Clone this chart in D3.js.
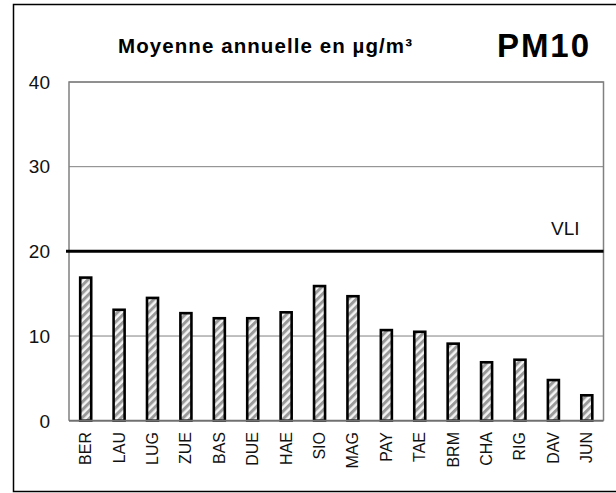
<!DOCTYPE html>
<html>
<head>
<meta charset="utf-8">
<script src="https://cdn.jsdelivr.net/npm/d3@7"></script>
<style>
  html, body { margin: 0; padding: 0; background: #fff; }
  svg { display: block; font-family: "Liberation Sans", Arial, sans-serif; }
</style>
</head>
<body>
<svg id="chart" width="616" height="493"></svg>
<script>
// Annual mean PM10 per NABEL station (µg/m³)
const stations = ["BER","LAU","LUG","ZUE","BAS","DUE","HAE","SIO","MAG","PAY","TAE","BRM","CHA","RIG","DAV","JUN"];
const pm10 = [16.9, 13.1, 14.5, 12.7, 12.1, 12.1, 12.8, 15.9, 14.7, 10.7, 10.5, 9.1, 6.9, 7.2, 4.8, 3.0];
const yTicks = [0, 10, 20, 30, 40];
const limitValue = 20;
const limitLabel = "VLI";
const title = "Moyenne annuelle en µg/m³";
const pollutant = "PM10";

const svg = d3.select("#chart");
const plot = { left: 69, right: 603.5, top: 82, bottom: 420.7 };

const x = d3.scaleBand().domain(stations).range([plot.left, plot.right]).paddingInner(0.67).paddingOuter(0.335);
const y = d3.scaleLinear().domain([0, 40]).range([plot.bottom, plot.top]);

// hatched fill for the bars
const defs = svg.append("defs");
const pat = defs.append("pattern")
  .attr("id", "hatch").attr("patternUnits", "userSpaceOnUse")
  .attr("width", 5.5).attr("height", 5.5)
  .attr("patternTransform", "rotate(45)");
pat.append("rect").attr("width", 5.5).attr("height", 5.5).attr("fill", "#f4f4f4");
pat.append("rect").attr("width", 3).attr("height", 5.5).attr("fill", "#9a9a9a");

// outer frame
svg.append("rect")
  .attr("x", 13.5).attr("y", 4.5).attr("width", 620).attr("height", 487)
  .attr("fill", "none").attr("stroke", "#000").attr("stroke-width", 1.5);

// titles
svg.append("text").attr("x", 118).attr("y", 53)
  .attr("font-size", 20.5).attr("font-weight", "bold")
  .attr("textLength", 294).attr("lengthAdjust", "spacing").text(title);
svg.append("text").attr("x", 497).attr("y", 57)
  .attr("font-size", 33).attr("font-weight", "bold")
  .attr("textLength", 92).attr("lengthAdjust", "spacing").text(pollutant);

// grid lines
svg.append("g").selectAll("line")
  .data(yTicks.filter(t => t !== 0 && t !== limitValue))
  .join("line")
  .attr("x1", plot.left).attr("x2", plot.right)
  .attr("y1", d => y(d)).attr("y2", d => y(d))
  .attr("stroke", "#808080").attr("stroke-width", 1);

// plot border (left, top, right)
svg.append("path")
  .attr("d", `M${plot.left},${plot.bottom}V${plot.top}H${plot.right}V${plot.bottom}`)
  .attr("fill", "none").attr("stroke", "#808080").attr("stroke-width", 1.5);

// y axis labels
svg.append("g").selectAll("text")
  .data(yTicks).join("text")
  .attr("x", 50).attr("y", d => y(d) + 6.8)
  .attr("text-anchor", "end").attr("font-size", 19).attr("fill", "#111")
  .text(d => d);

// bars
svg.append("g").selectAll("rect")
  .data(stations.map((s, i) => ({ s, v: pm10[i] })))
  .join("rect")
  .attr("x", d => x(d.s)).attr("width", x.bandwidth())
  .attr("y", d => y(d.v)).attr("height", d => y(0) - y(d.v))
  .attr("fill", "url(#hatch)").attr("stroke", "#000").attr("stroke-width", 2.6);

// x axis baseline
svg.append("line")
  .attr("x1", plot.left).attr("x2", plot.right)
  .attr("y1", plot.bottom).attr("y2", plot.bottom)
  .attr("stroke", "#707070").attr("stroke-width", 2);

// limit value line
svg.append("line")
  .attr("x1", plot.left - 3).attr("x2", plot.right)
  .attr("y1", y(limitValue)).attr("y2", y(limitValue))
  .attr("stroke", "#000").attr("stroke-width", 3);
svg.append("text").attr("x", 551).attr("y", y(limitValue) - 16)
  .attr("font-size", 19).attr("fill", "#111").text(limitLabel);

// station labels
svg.append("g").selectAll("text")
  .data(stations).join("text")
  .attr("transform", d => `translate(${x(d) + x.bandwidth() / 2 + 5.5},432) rotate(-90)`)
  .attr("text-anchor", "end").attr("font-size", 16).attr("fill", "#111")
  .text(d => d);
</script>
</body>
</html>
